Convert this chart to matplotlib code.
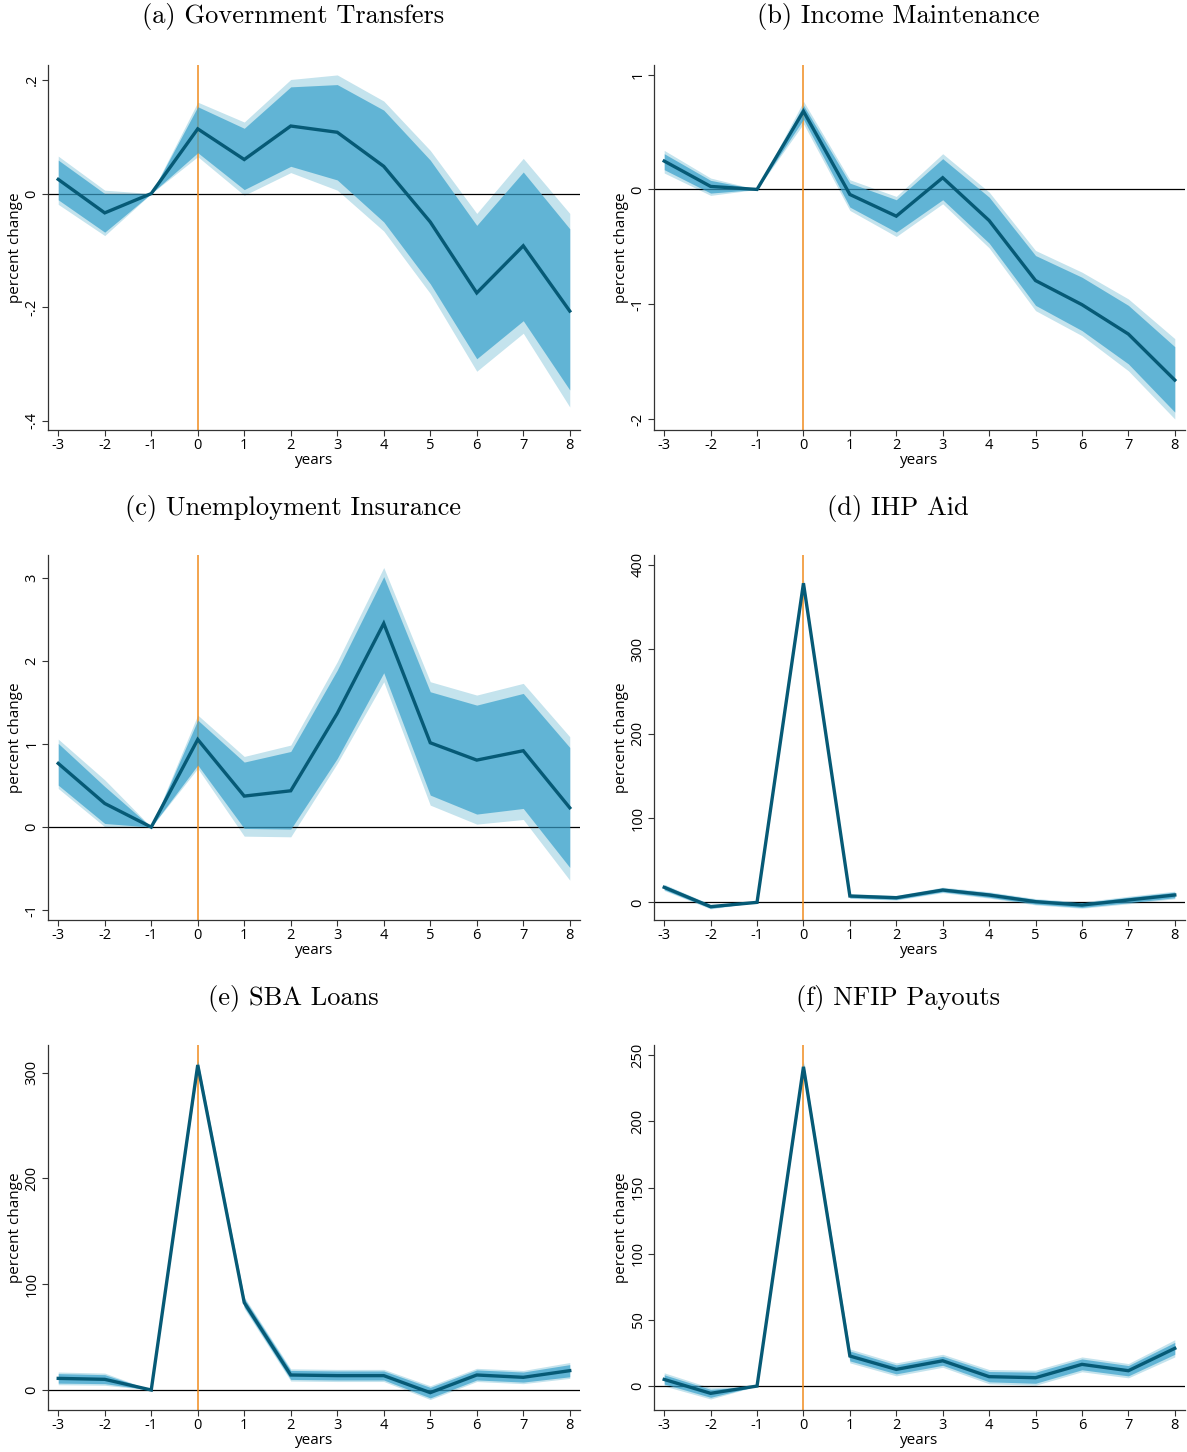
import matplotlib
matplotlib.use("Agg")
import matplotlib.pyplot as plt
from matplotlib.ticker import FixedLocator, FixedFormatter

plt.rcParams['font.family'] = ['Open Sans', 'DejaVu Sans']

years = [-3, -2, -1, 0, 1, 2, 3, 4, 5, 6, 7, 8]
xtick_labels = ["-3", "-2", "-1", "0", "1", "2", "3", "4", "5", "6", "7", "8"]

titles = ["(a) Government Transfers", "(b) Income Maintenance",
          "(c) Unemployment Insurance", "(d) IHP Aid",
          "(e) SBA Loans", "(f) NFIP Payouts"]

# (a) Government Transfers
a_est = [0.025, -0.034, 0, 0.114, 0.060, 0.119, 0.108, 0.048, -0.050, -0.175, -0.092, -0.207]
a_in_hi = [0.059, 0.000, 0, 0.153, 0.115, 0.188, 0.192, 0.147, 0.059, -0.056, 0.038, -0.062]
a_in_lo = [-0.011, -0.068, 0, 0.072, 0.007, 0.048, 0.024, -0.050, -0.159, -0.291, -0.224, -0.346]
a_out_hi = [0.066, 0.006, 0, 0.161, 0.126, 0.201, 0.209, 0.163, 0.076, -0.035, 0.062, -0.035]
a_out_lo = [-0.019, -0.074, 0, 0.065, -0.003, 0.037, 0.006, -0.066, -0.176, -0.313, -0.246, -0.376]
a_yticks = [-0.4, -0.2, 0, 0.2]
a_ylabels = ["-.4", "-.2", "0", ".2"]

# (b) Income Maintenance
b_est = [0.247, 0.026, 0, 0.681, -0.044, -0.233, 0.102, -0.271, -0.794, -1.004, -1.260, -1.661]
b_in_hi = [0.311, 0.079, 0, 0.733, 0.055, -0.090, 0.268, -0.067, -0.576, -0.765, -1.010, -1.370]
b_in_lo = [0.172, -0.032, 0, 0.611, -0.154, -0.372, -0.090, -0.468, -1.010, -1.230, -1.520, -1.940]
b_out_hi = [0.340, 0.099, 0, 0.768, 0.084, -0.061, 0.311, -0.023, -0.532, -0.721, -0.954, -1.300]
b_out_lo = [0.143, -0.052, 0, 0.573, -0.183, -0.410, -0.125, -0.509, -1.056, -1.274, -1.580, -2.000]
b_yticks = [-2, -1, 0, 1]
b_ylabels = ["-2", "-1", "0", "1"]

# (c) Unemployment Insurance
c_est = [0.768, 0.285, 0, 1.057, 0.374, 0.438, 1.371, 2.456, 1.017, 0.808, 0.921, 0.233]
c_in_hi = [1.009, 0.490, 0, 1.290, 0.784, 0.912, 1.893, 3.020, 1.632, 1.471, 1.612, 0.961]
c_in_lo = [0.506, 0.044, 0, 0.748, -0.016, -0.024, 0.828, 1.861, 0.386, 0.157, 0.225, -0.486]
c_out_hi = [1.061, 0.570, 0, 1.351, 0.852, 0.989, 1.994, 3.130, 1.753, 1.592, 1.733, 1.090]
c_out_lo = [0.466, 0.004, 0, 0.708, -0.109, -0.117, 0.768, 1.753, 0.265, 0.036, 0.092, -0.640]
c_yticks = [-1, 0, 1, 2, 3]
c_ylabels = ["-1", "0", "1", "2", "3"]

# (d) IHP Aid
d_est = [17.8, -5.1, 0, 378.0, 7.5, 5.5, 14.6, 8.7, 0.8, -3.2, 2.8, 8.7]
d_in_hi = [20.5, -3.0, 0, 381.0, 9.5, 7.5, 17.0, 11.5, 3.5, -0.5, 6.0, 12.0]
d_in_lo = [15.0, -7.0, 0, 375.0, 5.5, 3.5, 12.5, 6.0, -2.0, -6.0, -0.5, 5.5]
d_out_hi = [21.5, -2.3, 0, 383.0, 10.3, 8.3, 18.0, 12.5, 4.5, 0.5, 7.2, 13.2]
d_out_lo = [14.0, -7.8, 0, 372.0, 4.7, 2.7, 11.5, 5.0, -3.0, -7.0, -1.7, 4.3]
d_yticks = [0, 100, 200, 300, 400]
d_ylabels = ["0", "100", "200", "300", "400"]

# (e) SBA Loans
e_est = [11.0, 10.1, 0, 307.3, 82.6, 14.2, 13.6, 13.6, -2.5, 14.2, 12.0, 18.3]
e_in_hi = [15.5, 14.5, 0, 311.0, 86.5, 18.5, 18.0, 18.0, 2.5, 19.0, 17.0, 24.0]
e_in_lo = [6.5, 6.0, 0, 303.5, 78.5, 10.0, 9.5, 9.5, -7.5, 9.5, 7.5, 12.5]
e_out_hi = [17.0, 16.0, 0, 313.0, 88.0, 20.0, 19.5, 19.5, 4.0, 20.5, 18.5, 26.0]
e_out_lo = [5.0, 4.5, 0, 301.5, 77.0, 8.5, 8.0, 8.0, -9.0, 8.0, 6.0, 11.0]
e_yticks = [0, 100, 200, 300]
e_ylabels = ["0", "100", "200", "300"]

# (f) NFIP Payouts
f_est = [5.0, -5.5, 0, 241.3, 22.7, 12.6, 19.1, 7.1, 6.3, 16.4, 11.6, 28.5]
f_in_hi = [8.5, -2.5, 0, 244.0, 26.5, 16.0, 22.5, 11.0, 10.5, 20.5, 15.5, 33.0]
f_in_lo = [1.5, -8.5, 0, 238.5, 19.0, 9.2, 15.7, 3.2, 2.1, 12.3, 7.7, 24.0]
f_out_hi = [10.0, -1.3, 0, 245.5, 28.0, 17.5, 24.0, 12.5, 12.0, 22.0, 17.0, 35.0]
f_out_lo = [0.0, -9.8, 0, 237.0, 17.5, 7.7, 14.2, 1.7, 0.6, 10.8, 6.2, 22.0]
f_yticks = [0, 50, 100, 150, 200, 250]
f_ylabels = ["0", "50", "100", "150", "200", "250"]

panels = [
    (a_est, a_in_lo, a_in_hi, a_out_lo, a_out_hi, a_yticks, a_ylabels, (-0.4165, 0.2265)),
    (b_est, b_in_lo, b_in_hi, b_out_lo, b_out_hi, b_yticks, b_ylabels, (-2.096, 1.084)),
    (c_est, c_in_lo, c_in_hi, c_out_lo, c_out_hi, c_yticks, c_ylabels, (-1.12, 3.281)),
    (d_est, d_in_lo, d_in_hi, d_out_lo, d_out_hi, d_yticks, d_ylabels, (-20.9, 411.5)),
    (e_est, e_in_lo, e_in_hi, e_out_lo, e_out_hi, e_yticks, e_ylabels, (-18.9, 326.2)),
    (f_est, f_in_lo, f_in_hi, f_out_lo, f_out_hi, f_yticks, f_ylabels, (-18.1, 257.8)),
]

W, H = 1187, 1452
fig = plt.figure(figsize=(W / 100, H / 100), dpi=100)

col_lr = [(48, 580), (654, 1185)]
row_tb = [(65, 430), (555, 920), (1045, 1410)]
title_x = [293, 898]
title_y = [17, 508, 998]

outer_col = "#c4e3ed"
inner_col = (56 / 255, 161 / 255, 203 / 255)
line_col = "#065a76"
orange = "#f08c1e"

for i, (est, ilo, ihi, olo, ohi, yt, yl, ylim) in enumerate(panels):
    r, c = divmod(i, 2)
    l, rr = col_lr[c]
    t, b = row_tb[r]
    ax = fig.add_axes([l / W, 1 - b / H, (rr - l) / W, (b - t) / H])
    ax.fill_between(years, olo, ohi, color=outer_col, lw=0, zorder=1)
    ax.axhline(0, color="black", lw=0.9, zorder=2)
    ax.axvline(0, color=orange, lw=1.1, zorder=2)
    ax.fill_between(years, ilo, ihi, color=inner_col, alpha=0.7, lw=0, zorder=3)
    ax.plot(years, est, color=line_col, lw=2.4, zorder=4, solid_joinstyle="miter")
    ax.set_xlim(-3.22, 8.22)
    ax.set_ylim(*ylim)
    ax.xaxis.set_major_locator(FixedLocator(years))
    ax.xaxis.set_major_formatter(FixedFormatter(xtick_labels))
    ax.yaxis.set_major_locator(FixedLocator(yt))
    ax.yaxis.set_major_formatter(FixedFormatter(yl))
    for s in ["top", "right"]:
        ax.spines[s].set_visible(False)
    for s in ["left", "bottom"]:
        ax.spines[s].set_color("#333333")
        ax.spines[s].set_linewidth(0.9)
    ax.tick_params(axis="both", direction="out", length=4, width=0.8, color="#333333",
                   labelsize=10.5, pad=2)
    for lab in ax.get_yticklabels():
        lab.set_rotation(90)
        lab.set_va("center")
    ax.set_xlabel("years", fontsize=11, labelpad=0)
    ax.set_ylabel("percent change", fontsize=11, labelpad=1)
    fig.text(title_x[c] / W, 1 - title_y[r] / H, titles[i], family="cmr10",
             fontsize=19, ha="center", va="center")

fig.savefig("out.png", dpi=100)
